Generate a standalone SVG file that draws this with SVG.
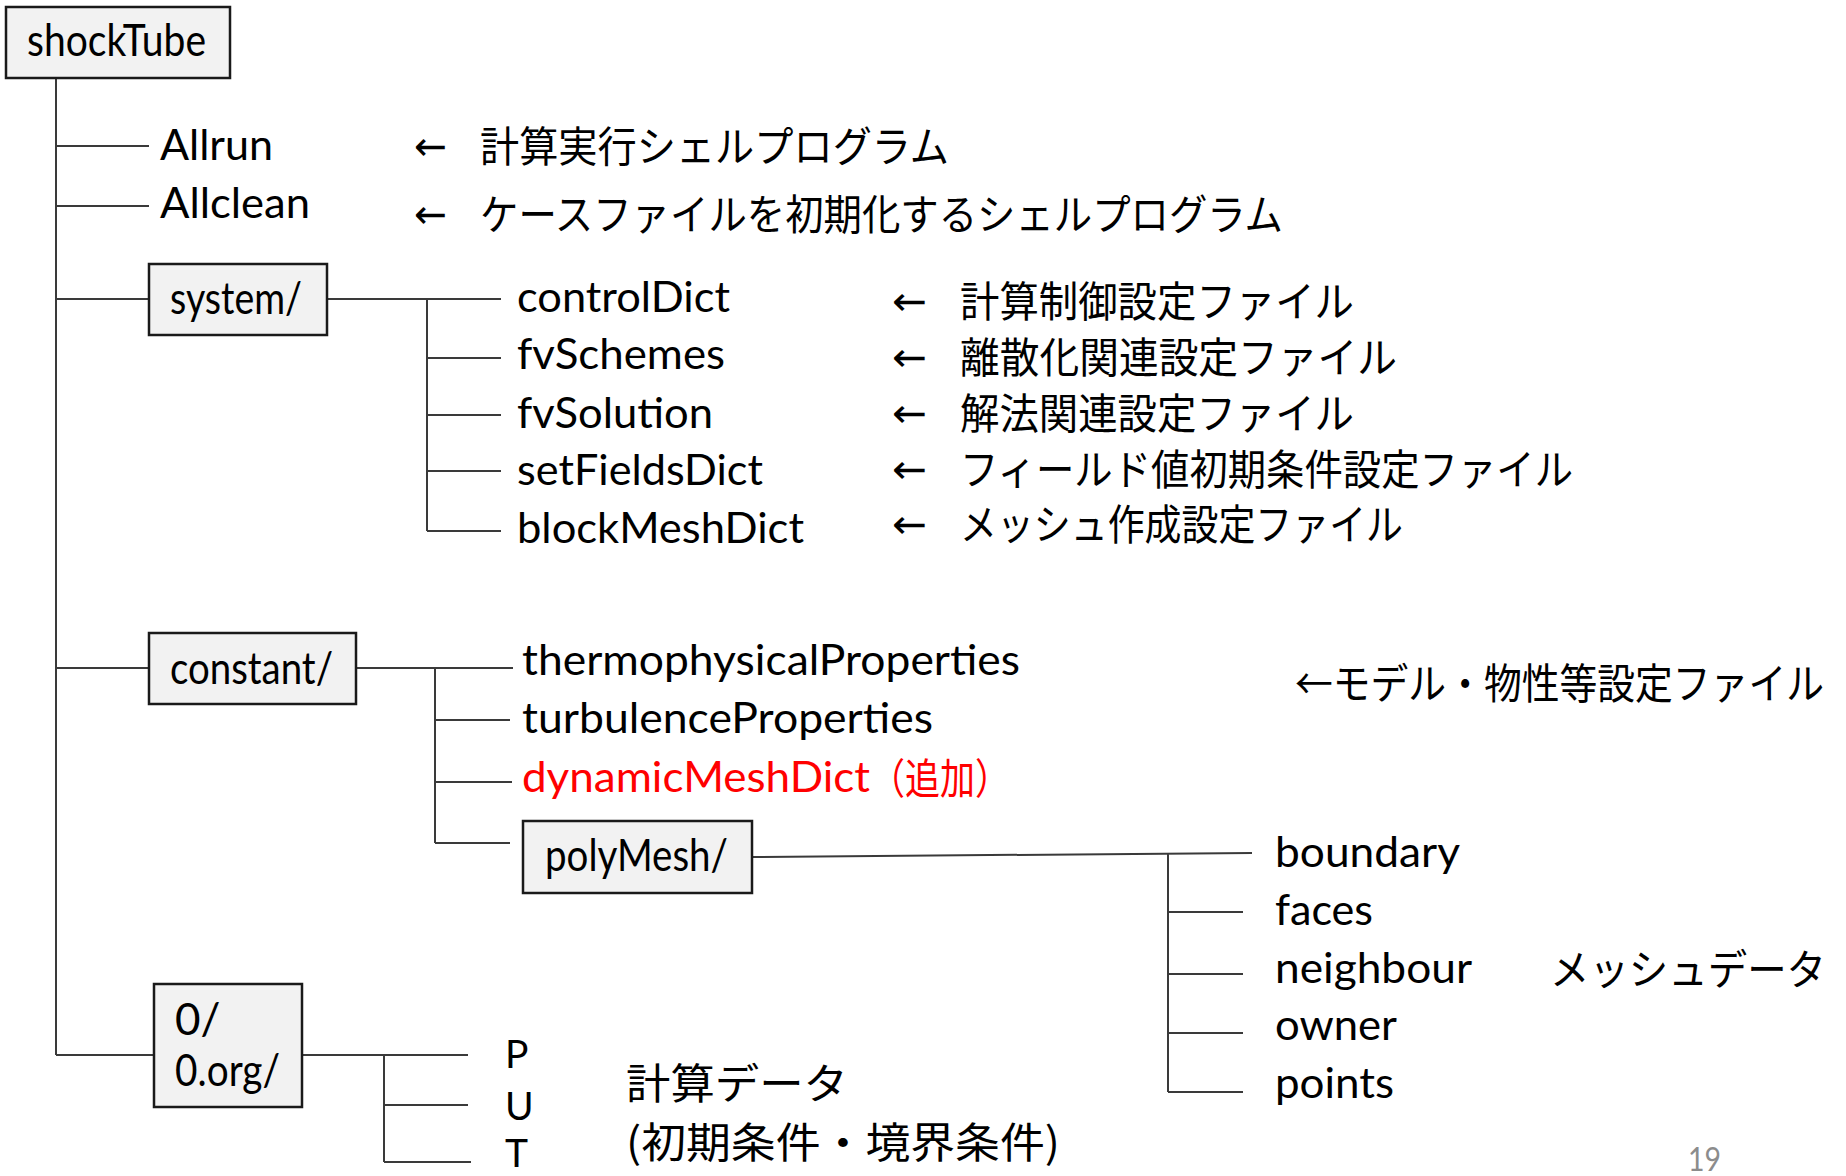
<svg xmlns="http://www.w3.org/2000/svg" width="1846" height="1176" viewBox="0 0 1846 1176">
<style>
.box{fill:#f2f2f2;stroke:#1a1a1a;stroke-width:2.5}
.ln{stroke:#3a3a3a;stroke-width:2;fill:none}
.t{font-family:Lato,"Noto Sans CJK JP",sans-serif;font-size:42px;fill:#000}
.b{font-size:44px}
.s{font-size:39px}
.j{font-family:"Noto Sans CJK JP",sans-serif;font-size:42px;fill:#000}
.a{font-family:"DejaVu Sans",sans-serif;font-size:40px;fill:#000}
.red{fill:#ff0000}
</style>
<rect width="1846" height="1176" fill="#ffffff"/>
<g id="connectors">
<path class="ln" d="M56 78V1055"/>
<path class="ln" d="M56 146H149M56 206H149M56 299H149"/>
<path class="ln" d="M327 299H501M427 299V531M427 358H501M427 415H501M427 471H501M427 531H501"/>
<path class="ln" d="M56 668H149M356 668H513M435 668V843M435 720H510M435 782H512M435 843H510"/>
<path class="ln" d="M752 857L1252 853M1168 853V1092M1168 912H1243M1168 974H1243M1168 1033H1243M1168 1092H1243"/>
<path class="ln" d="M56 1055H154M302 1055H468M384 1055V1162M384 1105H468M384 1162H471"/>
</g>
<g id="shockTube">
<rect class="box" x="6" y="7" width="224" height="71"/>
<text class="t b" x="27" y="56" textLength="179" lengthAdjust="spacingAndGlyphs">shockTube</text>
</g>
<g id="Allrun">
<text class="t" x="160" y="160" textLength="113" lengthAdjust="spacingAndGlyphs">Allrun</text>
<text class="a" x="414" y="160" textLength="33" lengthAdjust="spacingAndGlyphs">←</text>
<text class="j" x="480" y="162" textLength="469" lengthAdjust="spacingAndGlyphs">計算実行シェルプログラム</text>
</g>
<g id="Allclean">
<text class="t" x="160" y="218" textLength="150" lengthAdjust="spacingAndGlyphs">Allclean</text>
<text class="a" x="414" y="228" textLength="33" lengthAdjust="spacingAndGlyphs">←</text>
<text class="j" x="480" y="230" textLength="803" lengthAdjust="spacingAndGlyphs">ケースファイルを初期化するシェルプログラム</text>
</g>
<g id="system">
<rect class="box" x="149" y="264" width="178" height="71"/>
<text class="t b" x="170" y="314" textLength="132" lengthAdjust="spacingAndGlyphs">system/</text>
</g>
<g id="controlDict">
<text class="t" x="517" y="312" textLength="213" lengthAdjust="spacingAndGlyphs">controlDict</text>
<text class="a" x="892" y="315" textLength="35" lengthAdjust="spacingAndGlyphs">←</text>
<text class="j" x="960" y="317" textLength="394" lengthAdjust="spacingAndGlyphs">計算制御設定ファイル</text>
</g>
<g id="fvSchemes">
<text class="t" x="517" y="369" textLength="208" lengthAdjust="spacingAndGlyphs">fvSchemes</text>
<text class="a" x="892" y="371" textLength="35" lengthAdjust="spacingAndGlyphs">←</text>
<text class="j" x="960" y="373" textLength="437" lengthAdjust="spacingAndGlyphs">離散化関連設定ファイル</text>
</g>
<g id="fvSolution">
<text class="t" x="517" y="428" textLength="196" lengthAdjust="spacingAndGlyphs">fvSolution</text>
<text class="a" x="892" y="427" textLength="35" lengthAdjust="spacingAndGlyphs">←</text>
<text class="j" x="960" y="429" textLength="394" lengthAdjust="spacingAndGlyphs">解法関連設定ファイル</text>
</g>
<g id="setFieldsDict">
<text class="t" x="517" y="485" textLength="246" lengthAdjust="spacingAndGlyphs">setFieldsDict</text>
<text class="a" x="892" y="483" textLength="35" lengthAdjust="spacingAndGlyphs">←</text>
<text class="j" x="960" y="485" textLength="613" lengthAdjust="spacingAndGlyphs">フィールド値初期条件設定ファイル</text>
</g>
<g id="blockMeshDict">
<text class="t" x="517" y="543" textLength="287" lengthAdjust="spacingAndGlyphs">blockMeshDict</text>
<text class="a" x="892" y="538" textLength="35" lengthAdjust="spacingAndGlyphs">←</text>
<text class="j" x="960" y="540" textLength="443" lengthAdjust="spacingAndGlyphs">メッシュ作成設定ファイル</text>
</g>
<g id="constant">
<rect class="box" x="149" y="633" width="207" height="71"/>
<text class="t b" x="170" y="684" textLength="163" lengthAdjust="spacingAndGlyphs">constant/</text>
</g>
<g id="thermophysicalProperties">
<text class="t" x="522" y="675" textLength="498" lengthAdjust="spacingAndGlyphs">thermophysicalProperties</text>
</g>
<g id="turbulenceProperties">
<text class="t" x="522" y="733" textLength="411" lengthAdjust="spacingAndGlyphs">turbulenceProperties</text>
</g>
<g id="dynamicMeshDict">
<text class="t red" x="522" y="792" textLength="348" lengthAdjust="spacingAndGlyphs">dynamicMeshDict</text>
<text class="j red" x="870" y="794" textLength="140" lengthAdjust="spacingAndGlyphs">（追加）</text>
</g>
<g id="constantNote">
<text class="j" transform="translate(1295 699) scale(0.9 1)" x="0" y="0">←モデル・物性等設定ファイル</text>
</g>
<g id="polyMesh">
<rect class="box" x="523" y="821" width="229" height="72"/>
<text class="t b" x="545" y="871" textLength="183" lengthAdjust="spacingAndGlyphs">polyMesh/</text>
</g>
<g id="boundary"><text class="t" x="1275" y="867" textLength="185" lengthAdjust="spacingAndGlyphs">boundary</text></g>
<g id="faces"><text class="t" x="1275" y="925" textLength="98" lengthAdjust="spacingAndGlyphs">faces</text></g>
<g id="neighbour"><text class="t" x="1275" y="983" textLength="197" lengthAdjust="spacingAndGlyphs">neighbour</text></g>
<g id="owner"><text class="t" x="1275" y="1040" textLength="122" lengthAdjust="spacingAndGlyphs">owner</text></g>
<g id="points"><text class="t" x="1275" y="1098" textLength="119" lengthAdjust="spacingAndGlyphs">points</text></g>
<g id="meshNote"><text class="j" x="1550" y="985" textLength="276" lengthAdjust="spacingAndGlyphs">メッシュデータ</text></g>
<g id="zero">
<rect class="box" x="154" y="984" width="148" height="123"/>
<text class="t b" x="175" y="1035">0/</text>
<text class="t b" x="175" y="1086" textLength="105" lengthAdjust="spacingAndGlyphs">0.org/</text>
</g>
<g id="P"><text class="t s" x="505" y="1068">P</text></g>
<g id="U"><text class="t s" x="505" y="1120">U</text></g>
<g id="T"><text class="t s" x="505" y="1167">T</text></g>
<g id="dataNote">
<text class="j" x="626" y="1099" font-size="48" textLength="222" lengthAdjust="spacingAndGlyphs">計算データ</text>
<text class="j" x="626" y="1158" font-size="48" textLength="434" lengthAdjust="spacingAndGlyphs">(初期条件・境界条件)</text>
</g>
<text x="1688" y="1171" font-family="Lato,sans-serif" font-size="32" fill="#8c8c8c" textLength="33" lengthAdjust="spacingAndGlyphs">19</text>
</svg>
